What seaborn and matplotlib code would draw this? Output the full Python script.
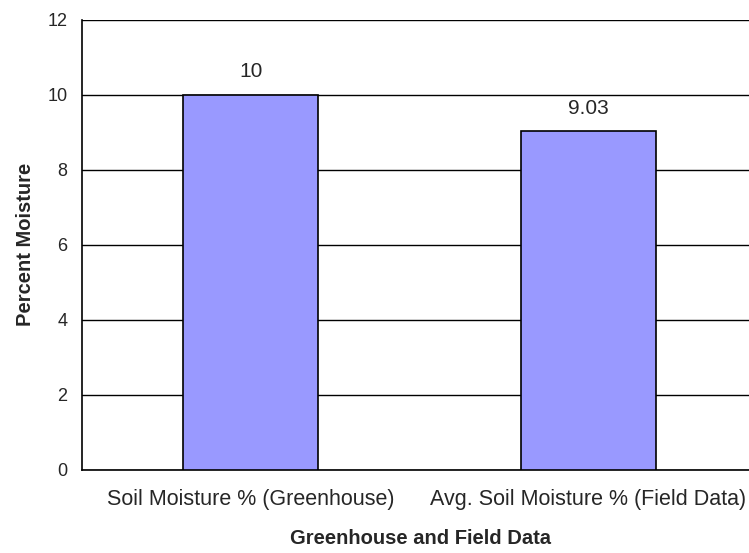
import matplotlib
matplotlib.use("Agg")
import matplotlib.pyplot as plt
import seaborn as sns
import pandas as pd

categories = ["Soil Moisture % (Greenhouse)", "Avg. Soil Moisture % (Field Data)"]
values = [10, 9.03]
value_labels = ["10", "9.03"]
y_ticks = [0, 2, 4, 6, 8, 10, 12]

sns.set_style("white")
plt.rcParams["font.family"] = ["Liberation Sans", "DejaVu Sans"]

df = pd.DataFrame({"category": categories, "value": values})

W, H = 749, 553
fig = plt.figure(figsize=(W / 100, H / 100), dpi=100)
# plot area runs past the right edge of the canvas
ax = fig.add_axes([82 / W, 1 - 469.5 / H, 675 / W, 450 / H])

sns.barplot(data=df, x="category", y="value", color="#9999FF", saturation=1,
            width=0.4, edgecolor="black", linewidth=1.2, ax=ax, zorder=3)

ax.set_ylim(0, 12)
ax.set_xlim(-0.5, 1.5)
ax.set_yticks(y_ticks)
ax.set_yticklabels([str(t) for t in y_ticks], fontsize=13)
ax.yaxis.grid(True, color="black", linewidth=1, zorder=0)
ax.set_axisbelow(True)

# x ticks mark the category boundaries; names sit at the centres
ax.set_xticks([-0.5, 0.5, 1.5])
ax.set_xticklabels([])
ax.set_xticks([0, 1], minor=True)
ax.set_xticklabels(categories, minor=True, fontsize=15.5)
ax.tick_params(axis="x", which="minor", length=0, pad=14)
ax.tick_params(axis="x", which="major", direction="out", length=5.5, width=1, color="black")
ax.tick_params(axis="y", direction="out", length=5, width=1, color="black", pad=5.5)

for side in ["top", "right"]:
    ax.spines[side].set_visible(False)
for side in ["left", "bottom"]:
    ax.spines[side].set_color("black")
    ax.spines[side].set_linewidth(1.2)

for i, (v, lab) in enumerate(zip(values, value_labels)):
    ax.annotate(lab, (i, v), xytext=(0, 12.5), textcoords="offset points",
                ha="center", va="baseline", fontsize=15)

ax.set_xlabel("Greenhouse and Field Data", fontsize=14.5, fontweight="bold")
ax.set_ylabel("Percent Moisture", fontsize=14.5, fontweight="bold")
ax.xaxis.set_label_coords((420.5 - 82) / 675, -(529 - 469.5) / 450)
ax.yaxis.set_label_coords(-(82 - 35) / 675, 0.5)

fig.savefig("out.png", dpi=100)
